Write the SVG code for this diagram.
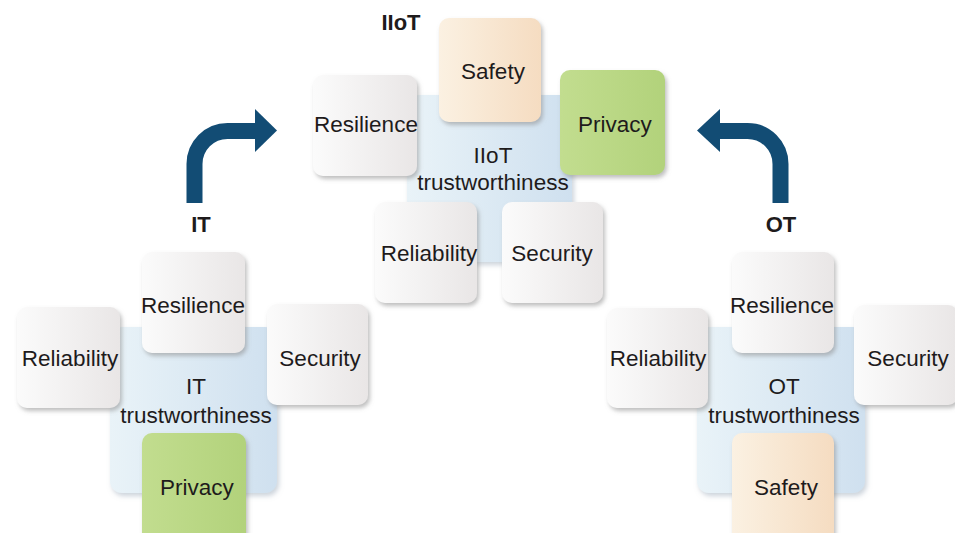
<svg xmlns="http://www.w3.org/2000/svg" width="955" height="533" viewBox="0 0 955 533">
<style>
text{font-family:"Liberation Sans",Arial,sans-serif;fill:#1e1b1c;text-anchor:middle}
.t{font-size:22.5px}
.h{font-size:22px;font-weight:bold}
.g{fill:url(#gGray);filter:url(#sh)}
.c{fill:url(#gBlue);filter:url(#sh2)}
.s{fill:url(#gPeach);filter:url(#sh)}
.p{fill:url(#gGreen);filter:url(#sh)}
.arr{fill:none;stroke:#124c74;stroke-width:16}
.ah{fill:#124c74}
</style>
<defs>
<linearGradient id="gGray" x1="0" y1="0" x2="1" y2="0">
<stop offset="0" stop-color="#fbfbfb"/><stop offset="1" stop-color="#e9e6e6"/>
</linearGradient>
<linearGradient id="gBlue" x1="0" y1="0" x2="1" y2="0">
<stop offset="0" stop-color="#e9f3f8"/><stop offset="1" stop-color="#cfe0ef"/>
</linearGradient>
<linearGradient id="gPeach" x1="0" y1="0" x2="1" y2="0">
<stop offset="0" stop-color="#fbf1e2"/><stop offset="1" stop-color="#f5dcc1"/>
</linearGradient>
<linearGradient id="gGreen" x1="0" y1="0" x2="1" y2="0">
<stop offset="0" stop-color="#c2dd8f"/><stop offset="1" stop-color="#b2d27b"/>
</linearGradient>
<filter id="sh" x="-10%" y="-10%" width="125%" height="125%">
<feDropShadow dx="2" dy="3" stdDeviation="2" flood-color="#8a8a8a" flood-opacity="0.55"/>
</filter>
<filter id="sh2" x="-10%" y="-10%" width="125%" height="125%">
<feDropShadow dx="2" dy="3" stdDeviation="2.5" flood-color="#9aa8b8" flood-opacity="0.5"/>
</filter>
</defs>
<rect width="955" height="533" fill="#ffffff"/>

<!-- IIoT cluster -->
<g id="iiot">
<text class="h" x="401" y="30">IIoT</text>
<g id="iiot-core"><rect class="c" x="407" y="95" width="165" height="167" rx="12"/>
<text class="t" x="493" y="163">IIoT</text><text class="t" x="493" y="190">trustworthiness</text></g>
<g id="iiot-safety"><rect class="s" x="439" y="18" width="102" height="104" rx="10"/><text class="t" x="493" y="79">Safety</text></g>
<g id="iiot-resilience"><rect class="g" x="313" y="75" width="104" height="101" rx="10"/><text class="t" x="366" y="132">Resilience</text></g>
<g id="iiot-privacy"><rect class="p" x="560" y="70" width="105" height="105" rx="10"/><text class="t" x="615" y="132">Privacy</text></g>
<g id="iiot-reliability"><rect class="g" x="375" y="202" width="102" height="101" rx="10"/><text class="t" x="429" y="261">Reliability</text></g>
<g id="iiot-security"><rect class="g" x="502" y="202" width="101" height="101" rx="10"/><text class="t" x="552" y="261">Security</text></g>
</g>

<!-- IT cluster -->
<g id="it">
<text class="h" x="201" y="232">IT</text>
<g id="it-core"><rect class="c" x="110" y="327" width="167" height="166" rx="12"/>
<text class="t" x="196" y="394">IT</text><text class="t" x="196" y="423">trustworthiness</text></g>
<g id="it-resilience"><rect class="g" x="142" y="252" width="103" height="101" rx="10"/><text class="t" x="193" y="313">Resilience</text></g>
<g id="it-reliability"><rect class="g" x="17" y="307" width="103" height="101" rx="10"/><text class="t" x="70" y="366">Reliability</text></g>
<g id="it-security"><rect class="g" x="267" y="304" width="101" height="101" rx="10"/><text class="t" x="320" y="366">Security</text></g>
<g id="it-privacy"><rect class="p" x="142" y="433" width="104" height="110" rx="10"/><text class="t" x="197" y="495">Privacy</text></g>
</g>

<!-- OT cluster -->
<g id="ot">
<text class="h" x="781" y="232">OT</text>
<g id="ot-core"><rect class="c" x="697" y="327" width="168" height="166" rx="12"/>
<text class="t" x="784" y="394">OT</text><text class="t" x="784" y="423">trustworthiness</text></g>
<g id="ot-resilience"><rect class="g" x="732" y="252" width="102" height="101" rx="10"/><text class="t" x="782" y="313">Resilience</text></g>
<g id="ot-reliability"><rect class="g" x="607" y="308" width="101" height="100" rx="10"/><text class="t" x="658" y="366">Reliability</text></g>
<g id="ot-security"><rect class="g" x="854" y="305" width="104" height="100" rx="10"/><text class="t" x="908" y="366">Security</text></g>
<g id="ot-safety"><rect class="s" x="732" y="433" width="102" height="110" rx="10"/><text class="t" x="786" y="495">Safety</text></g>
</g>

<!-- connectors -->
<g id="connectors">
<path class="arr" d="M194.5 203 V164 A33 33 0 0 1 227.5 131 H258"/>
<polygon class="ah" points="255,109 277,130.5 255,152"/>
<path class="arr" d="M780.5 203 V164 A33 33 0 0 0 747.5 131 H717"/>
<polygon class="ah" points="720,109 697,130.5 720,152"/>
</g>
</svg>
